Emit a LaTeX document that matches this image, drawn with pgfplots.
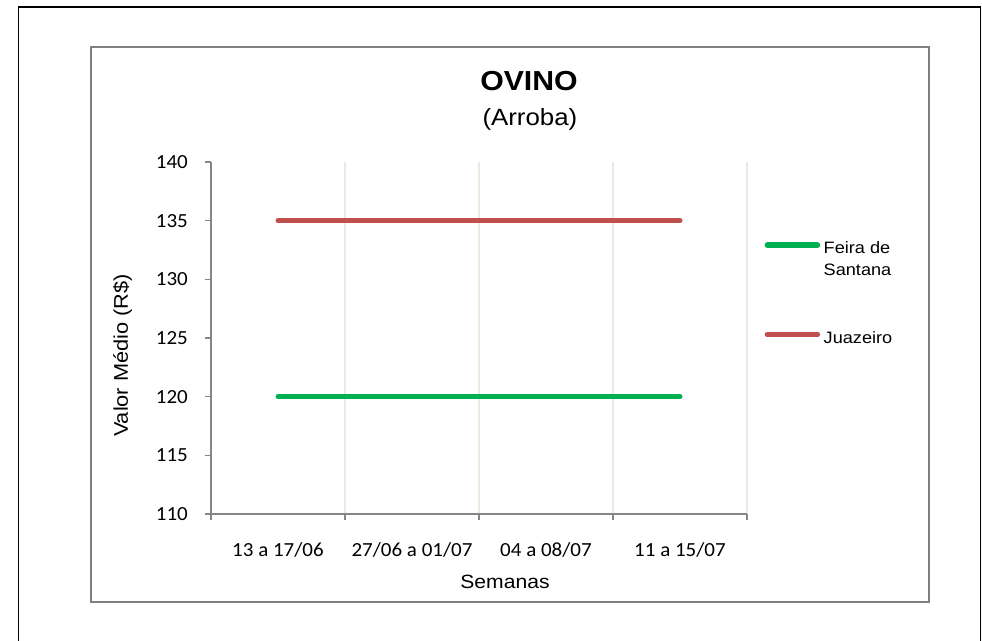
\documentclass[border=0pt]{standalone}
\usepackage{fontspec}
\setmainfont{Liberation Sans}[FakeStretch=1.1]
\newfontfamily\carlito{Carlito}[FakeStretch=1.05]
\usepackage{pgfplots}
\pgfplotsset{compat=1.18}
\definecolor{fsgreen}{HTML}{00B050}
\definecolor{jzred}{HTML}{C0504D}
\definecolor{axgray}{HTML}{868686}
\definecolor{gridc}{HTML}{ECEADF}
\begin{document}
\begin{tikzpicture}
\path[use as bounding box] (0pt,0pt) rectangle (982pt,640pt);
\clip (0pt,0pt) rectangle (982pt,640pt);
\draw[black, line width=1.4pt] (18.5pt,633pt) rectangle (980.5pt,-10pt);
\draw[axgray!95!black, line width=2pt, fill=white] (91pt,592.5pt) rectangle (929pt,38.5pt);
\begin{axis}[
  at={(211pt,126pt)}, anchor=south west,
  width=536pt, height=352pt, scale only axis,
  xmin=-0.5, xmax=3.5, ymin=110, ymax=140,
  ytick={110,115,...,140},
  xtick={-0.5,0.5,1.5,2.5,3.5},
  xticklabel=\empty,
  extra x ticks={0,1,2,3},
  extra x tick labels={13 a 17/06,27/06 a 01/07,04 a 08/07,11 a 15/07},
  extra x tick style={major tick length=0pt, grid=none,
     xticklabel style={anchor=base, yshift=-42pt}},
  axis x line*=bottom, axis y line*=left,
  axis line style={axgray, line width=1.8pt, -},
  tick align=outside, major tick length=6pt,
  major tick style={axgray, line width=1.3pt},
  xmajorgrids, major grid style={gridc, line width=1.3pt},
  tick label style={font=\fontsize{20}{24}\selectfont\carlito},
  /pgf/number format/assume math mode=true,
  yticklabel style={anchor=east, inner sep=0pt, xshift=-17pt},
  xlabel={Semanas},
  xlabel style={font=\fontsize{19.2}{23}\selectfont, anchor=base, at={(axis description cs:0.5485,-0.2111)}},
  ylabel={Valor Médio (R\$)},
  ylabel style={font=\fontsize{19.8}{23}\selectfont, anchor=center, at={(axis description cs:-0.1651,0.4503)}},
  clip=false,
  legend style={draw=none, fill=none, inner sep=0pt, at={(axis description cs:1.0326,0.774)}, anchor=north west,
     font=\fontsize{16.5}{22}\selectfont, legend cell align=left,
     nodes={inner sep=0pt}, row sep=76pt, column sep=3.5pt},
  legend image code/.code={\draw[#1, line width=5.5pt, line cap=round] (0pt,3.3pt) -- (50pt,3.3pt);},
]
\addplot[fsgreen, line width=5pt, line cap=round] coordinates {(0,120) (1,120) (2,120) (3,120)};
\addlegendentry{\vtop{\baselineskip=22pt\hbox{Feira de}\hbox{Santana}}}
\addplot[jzred, line width=5pt, line cap=round] coordinates {(0,135) (1,135) (2,135) (3,135)};
\addlegendentry{Juazeiro}
\node[anchor=base, inner sep=0pt, font=\fontsize{27.5}{30}\selectfont\bfseries] at (axis description cs:0.5933,1.2017) {OVINO};
\node[anchor=base, inner sep=0pt, font=\fontsize{23.5}{28}\selectfont] at (axis description cs:0.595,1.1051) {(Arroba)};
\end{axis}
\end{tikzpicture}
\end{document}
